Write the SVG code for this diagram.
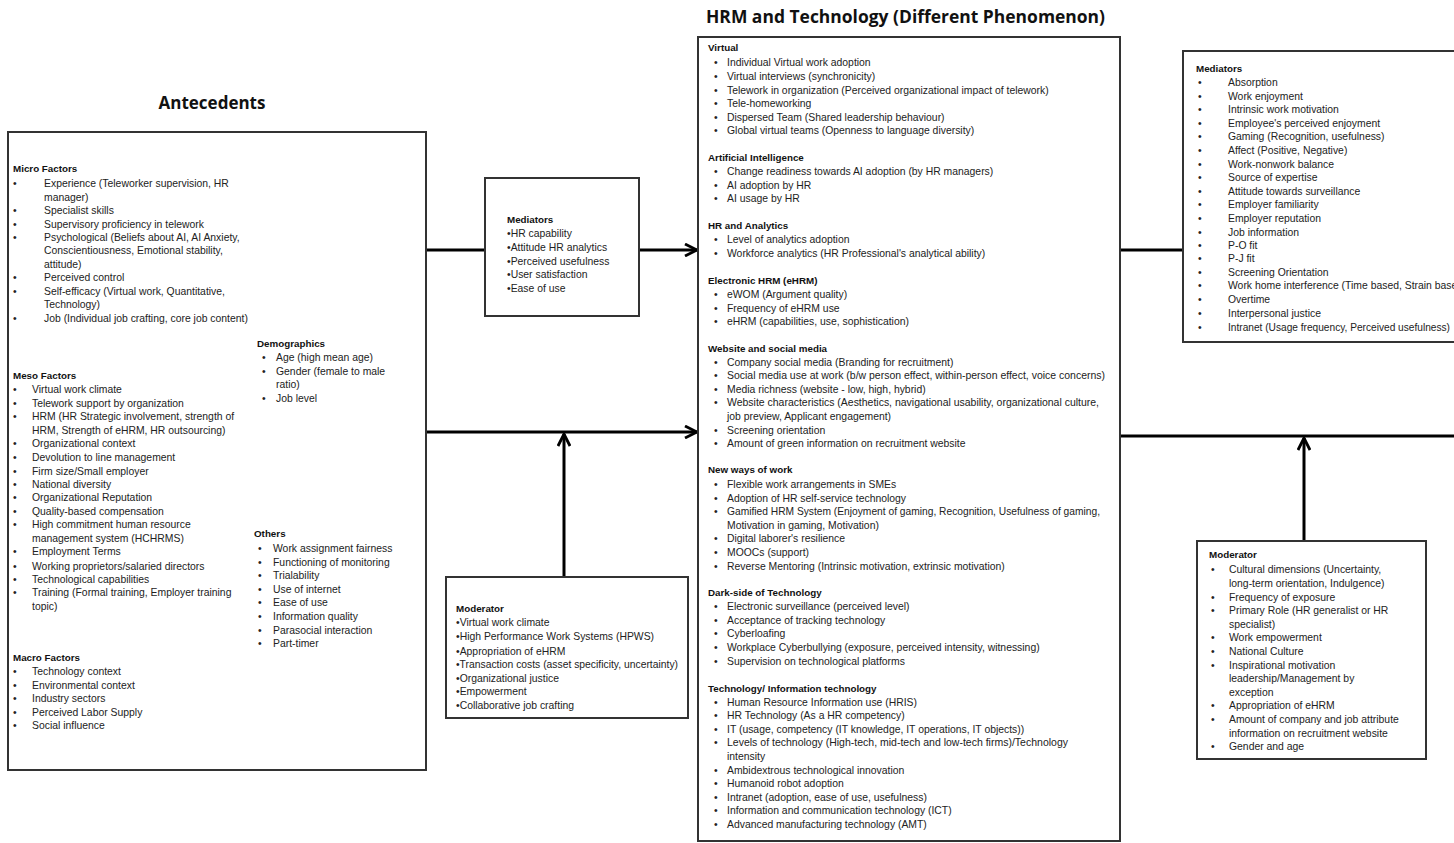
<svg xmlns="http://www.w3.org/2000/svg" width="1454" height="843" viewBox="0 0 1454 843">
<style>
.t{font-family:"Liberation Sans",Arial,sans-serif;font-size:10.4px;fill:#222}
.h{font-family:"Liberation Sans",Arial,sans-serif;font-size:9.8px;font-weight:bold;fill:#111}
.title{font-family:"Open Sans","Liberation Sans",sans-serif;font-size:17px;font-weight:bold;fill:#111}
.box{fill:#fff;stroke:#333;stroke-width:2}
.conn{stroke:#000;stroke-width:3;fill:none}
</style>
<defs>
<marker id="arr" viewBox="0 0 14 14" refX="13" refY="7" markerWidth="14" markerHeight="14" markerUnits="userSpaceOnUse" orient="auto">
<path d="M1,1 L13,7 L1,13" fill="none" stroke="#000" stroke-width="2.8"/>
</marker>
</defs>
<rect width="1454" height="843" fill="#fff"/>

<g id="connectors">
<line class="conn" x1="426" y1="250" x2="485" y2="250"/>
<line class="conn" x1="639" y1="250" x2="697" y2="250" marker-end="url(#arr)"/>
<line class="conn" x1="426" y1="432" x2="697" y2="432" marker-end="url(#arr)"/>
<line class="conn" x1="564" y1="577" x2="564" y2="434" marker-end="url(#arr)"/>
<line class="conn" x1="1120" y1="250" x2="1183" y2="250"/>
<line class="conn" x1="1120" y1="436" x2="1454" y2="436"/>
<line class="conn" x1="1304" y1="541" x2="1304" y2="438" marker-end="url(#arr)"/>
</g>

<g id="antecedents">
<text class="title" x="212" y="109" text-anchor="middle">Antecedents</text>
<rect class="box" x="8" y="132" width="418" height="638"/>
<text class="h" x="13" y="172">Micro Factors</text>
<g class="t">
<text x="13" y="187">•</text><text x="44" y="187">Experience (Teleworker supervision, HR</text>
<text x="44" y="201">manager)</text>
<text x="13" y="214">•</text><text x="44" y="214">Specialist skills</text>
<text x="13" y="228">•</text><text x="44" y="228">Supervisory proficiency in telework</text>
<text x="13" y="241">•</text><text x="44" y="241">Psychological (Beliefs about AI, AI Anxiety,</text>
<text x="44" y="254">Conscientiousness, Emotional stability,</text>
<text x="44" y="268">attitude)</text>
<text x="13" y="281">•</text><text x="44" y="281">Perceived control</text>
<text x="13" y="295">•</text><text x="44" y="295">Self-efficacy (Virtual work, Quantitative,</text>
<text x="44" y="308">Technology)</text>
<text x="13" y="322">•</text><text x="44" y="322">Job (Individual job crafting, core job content)</text>
</g>
<text class="h" x="13" y="379">Meso Factors</text>
<g class="t">
<text x="13" y="393">•</text><text x="32" y="393">Virtual work climate</text>
<text x="13" y="407">•</text><text x="32" y="407">Telework support by organization</text>
<text x="13" y="420">•</text><text x="32" y="420">HRM (HR Strategic involvement, strength of</text>
<text x="32" y="434">HRM, Strength of eHRM, HR outsourcing)</text>
<text x="13" y="447">•</text><text x="32" y="447">Organizational context</text>
<text x="13" y="461">•</text><text x="32" y="461">Devolution to line management</text>
<text x="13" y="475">•</text><text x="32" y="475">Firm size/Small employer</text>
<text x="13" y="488">•</text><text x="32" y="488">National diversity</text>
<text x="13" y="501">•</text><text x="32" y="501">Organizational Reputation</text>
<text x="13" y="515">•</text><text x="32" y="515">Quality-based compensation</text>
<text x="13" y="528">•</text><text x="32" y="528">High commitment human resource</text>
<text x="32" y="542">management system (HCHRMS)</text>
<text x="13" y="555">•</text><text x="32" y="555">Employment Terms</text>
<text x="13" y="570">•</text><text x="32" y="570">Working proprietors/salaried directors</text>
<text x="13" y="583">•</text><text x="32" y="583">Technological capabilities</text>
<text x="13" y="596">•</text><text x="32" y="596">Training (Formal training, Employer training</text>
<text x="32" y="610">topic)</text>
</g>
<text class="h" x="13" y="661">Macro Factors</text>
<g class="t">
<text x="13" y="675">•</text><text x="32" y="675">Technology context</text>
<text x="13" y="689">•</text><text x="32" y="689">Environmental context</text>
<text x="13" y="702">•</text><text x="32" y="702">Industry sectors</text>
<text x="13" y="716">•</text><text x="32" y="716">Perceived Labor Supply</text>
<text x="13" y="729">•</text><text x="32" y="729">Social influence</text>
</g>
<text class="h" x="257" y="347">Demographics</text>
<g class="t">
<text x="262" y="361">•</text><text x="276" y="361">Age (high mean age)</text>
<text x="262" y="375">•</text><text x="276" y="375">Gender (female to male</text>
<text x="276" y="388">ratio)</text>
<text x="262" y="402">•</text><text x="276" y="402">Job level</text>
</g>
<text class="h" x="254" y="537">Others</text>
<g class="t">
<text x="258" y="552">•</text><text x="273" y="552">Work assignment fairness</text>
<text x="258" y="566">•</text><text x="273" y="566">Functioning of monitoring</text>
<text x="258" y="579">•</text><text x="273" y="579">Trialability</text>
<text x="258" y="593">•</text><text x="273" y="593">Use of internet</text>
<text x="258" y="606">•</text><text x="273" y="606">Ease of use</text>
<text x="258" y="620">•</text><text x="273" y="620">Information quality</text>
<text x="258" y="634">•</text><text x="273" y="634">Parasocial interaction</text>
<text x="258" y="647">•</text><text x="273" y="647">Part-timer</text>
</g>
</g>

<g id="mediators-left">
<rect class="box" x="485" y="178" width="154" height="138"/>
<text class="h" x="507" y="223">Mediators</text>
<g class="t">
<text x="507" y="237">•HR capability</text>
<text x="507" y="251">•Attitude HR analytics</text>
<text x="507" y="265">•Perceived usefulness</text>
<text x="507" y="278">•User satisfaction</text>
<text x="507" y="292">•Ease of use</text>
</g>
</g>

<g id="moderator-left">
<rect class="box" x="446" y="577" width="242" height="141"/>
<text class="h" x="456" y="612">Moderator</text>
<g class="t">
<text x="456" y="626">•Virtual work climate</text>
<text x="456" y="640">•High Performance Work Systems (HPWS)</text>
<text x="456" y="655">•Appropriation of eHRM</text>
<text x="456" y="668" textLength="222" lengthAdjust="spacingAndGlyphs">•Transaction costs (asset specificity, uncertainty)</text>
<text x="456" y="682">•Organizational justice</text>
<text x="456" y="695">•Empowerment</text>
<text x="456" y="709">•Collaborative job crafting</text>
</g>
</g>

<g id="hrm-technology">
<text class="title" x="706" y="23" textLength="399" lengthAdjust="spacingAndGlyphs">HRM and Technology (Different Phenomenon)</text>
<rect class="box" x="698" y="37" width="422" height="804"/>
<g class="h">
<text x="708" y="51">Virtual</text>
<text x="708" y="161">Artificial Intelligence</text>
<text x="708" y="229">HR and Analytics</text>
<text x="708" y="284">Electronic HRM (eHRM)</text>
<text x="708" y="352">Website and social media</text>
<text x="708" y="473">New ways of work</text>
<text x="708" y="596">Dark-side of Technology</text>
<text x="708" y="692">Technology/ Information technology</text>
</g>
<g class="t">
<text x="714" y="66">•</text><text x="727" y="66">Individual Virtual work adoption</text>
<text x="714" y="80">•</text><text x="727" y="80">Virtual interviews (synchronicity)</text>
<text x="714" y="94">•</text><text x="727" y="94">Telework in organization (Perceived organizational impact of telework)</text>
<text x="714" y="107">•</text><text x="727" y="107">Tele-homeworking</text>
<text x="714" y="121">•</text><text x="727" y="121">Dispersed Team (Shared leadership behaviour)</text>
<text x="714" y="134">•</text><text x="727" y="134">Global virtual teams (Openness to language diversity)</text>
<text x="714" y="175">•</text><text x="727" y="175">Change readiness towards AI adoption (by HR managers)</text>
<text x="714" y="189">•</text><text x="727" y="189">AI adoption by HR</text>
<text x="714" y="202">•</text><text x="727" y="202">AI usage by HR</text>
<text x="714" y="243">•</text><text x="727" y="243">Level of analytics adoption</text>
<text x="714" y="257">•</text><text x="727" y="257">Workforce analytics (HR Professional's analytical ability)</text>
<text x="714" y="298">•</text><text x="727" y="298">eWOM (Argument quality)</text>
<text x="714" y="312">•</text><text x="727" y="312">Frequency of eHRM use</text>
<text x="714" y="325">•</text><text x="727" y="325">eHRM (capabilities, use, sophistication)</text>
<text x="714" y="366">•</text><text x="727" y="366">Company social media (Branding for recruitment)</text>
<text x="714" y="379">•</text><text x="727" y="379" textLength="378" lengthAdjust="spacingAndGlyphs">Social media use at work (b/w person effect, within-person effect, voice concerns)</text>
<text x="714" y="393">•</text><text x="727" y="393">Media richness (website - low, high, hybrid)</text>
<text x="714" y="406">•</text><text x="727" y="406" textLength="372" lengthAdjust="spacingAndGlyphs">Website characteristics (Aesthetics, navigational usability, organizational culture,</text>
<text x="727" y="420">job preview, Applicant engagement)</text>
<text x="714" y="434">•</text><text x="727" y="434">Screening orientation</text>
<text x="714" y="447">•</text><text x="727" y="447">Amount of green information on recruitment website</text>
<text x="714" y="488">•</text><text x="727" y="488">Flexible work arrangements in SMEs</text>
<text x="714" y="502">•</text><text x="727" y="502">Adoption of HR self-service technology</text>
<text x="714" y="515">•</text><text x="727" y="515" textLength="373" lengthAdjust="spacingAndGlyphs">Gamified HRM System (Enjoyment of gaming, Recognition, Usefulness of gaming,</text>
<text x="727" y="529">Motivation in gaming, Motivation)</text>
<text x="714" y="542">•</text><text x="727" y="542">Digital laborer's resilience</text>
<text x="714" y="556">•</text><text x="727" y="556">MOOCs (support)</text>
<text x="714" y="570">•</text><text x="727" y="570">Reverse Mentoring (Intrinsic motivation, extrinsic motivation)</text>
<text x="714" y="610">•</text><text x="727" y="610">Electronic surveillance (perceived level)</text>
<text x="714" y="624">•</text><text x="727" y="624">Acceptance of tracking technology</text>
<text x="714" y="637">•</text><text x="727" y="637">Cyberloafing</text>
<text x="714" y="651">•</text><text x="727" y="651">Workplace Cyberbullying (exposure, perceived intensity, witnessing)</text>
<text x="714" y="665">•</text><text x="727" y="665">Supervision on technological platforms</text>
<text x="714" y="706">•</text><text x="727" y="706">Human Resource Information use (HRIS)</text>
<text x="714" y="719">•</text><text x="727" y="719">HR Technology (As a HR competency)</text>
<text x="714" y="733">•</text><text x="727" y="733">IT (usage, competency (IT knowledge, IT operations, IT objects))</text>
<text x="714" y="746">•</text><text x="727" y="746" textLength="341" lengthAdjust="spacingAndGlyphs">Levels of technology (High-tech, mid-tech and low-tech firms)/Technology</text>
<text x="727" y="760">intensity</text>
<text x="714" y="774">•</text><text x="727" y="774">Ambidextrous technological innovation</text>
<text x="714" y="787">•</text><text x="727" y="787">Humanoid robot adoption</text>
<text x="714" y="801">•</text><text x="727" y="801">Intranet (adoption, ease of use, usefulness)</text>
<text x="714" y="814">•</text><text x="727" y="814">Information and communication technology (ICT)</text>
<text x="714" y="828">•</text><text x="727" y="828">Advanced manufacturing technology (AMT)</text>
</g>
</g>

<g id="mediators-right">
<rect class="box" x="1183" y="51" width="290" height="291"/>
<text class="h" x="1196" y="72">Mediators</text>
<g class="t">
<text x="1198" y="86">•</text><text x="1228" y="86">Absorption</text>
<text x="1198" y="100">•</text><text x="1228" y="100">Work enjoyment</text>
<text x="1198" y="113">•</text><text x="1228" y="113">Intrinsic work motivation</text>
<text x="1198" y="127">•</text><text x="1228" y="127">Employee's perceived enjoyment</text>
<text x="1198" y="140">•</text><text x="1228" y="140">Gaming (Recognition, usefulness)</text>
<text x="1198" y="154">•</text><text x="1228" y="154">Affect (Positive, Negative)</text>
<text x="1198" y="168">•</text><text x="1228" y="168">Work-nonwork balance</text>
<text x="1198" y="181">•</text><text x="1228" y="181">Source of expertise</text>
<text x="1198" y="195">•</text><text x="1228" y="195">Attitude towards surveillance</text>
<text x="1198" y="208">•</text><text x="1228" y="208">Employer familiarity</text>
<text x="1198" y="222">•</text><text x="1228" y="222">Employer reputation</text>
<text x="1198" y="236">•</text><text x="1228" y="236">Job information</text>
<text x="1198" y="249">•</text><text x="1228" y="249">P-O fit</text>
<text x="1198" y="262">•</text><text x="1228" y="262">P-J fit</text>
<text x="1198" y="276">•</text><text x="1228" y="276">Screening Orientation</text>
<text x="1198" y="289">•</text><text x="1228" y="289">Work home interference (Time based, Strain based)</text>
<text x="1198" y="303">•</text><text x="1228" y="303">Overtime</text>
<text x="1198" y="317">•</text><text x="1228" y="317">Interpersonal justice</text>
<text x="1198" y="331">•</text><text x="1228" y="331" textLength="222" lengthAdjust="spacingAndGlyphs">Intranet (Usage frequency, Perceived usefulness)</text>
</g>
</g>

<g id="moderator-right">
<rect class="box" x="1197" y="541" width="229" height="218"/>
<text class="h" x="1209" y="558">Moderator</text>
<g class="t">
<text x="1211" y="573">•</text><text x="1229" y="573">Cultural dimensions (Uncertainty,</text>
<text x="1229" y="587">long-term orientation, Indulgence)</text>
<text x="1211" y="601">•</text><text x="1229" y="601">Frequency of exposure</text>
<text x="1211" y="614">•</text><text x="1229" y="614">Primary Role (HR generalist or HR</text>
<text x="1229" y="628">specialist)</text>
<text x="1211" y="641">•</text><text x="1229" y="641">Work empowerment</text>
<text x="1211" y="655">•</text><text x="1229" y="655">National Culture</text>
<text x="1211" y="669">•</text><text x="1229" y="669">Inspirational motivation</text>
<text x="1229" y="682">leadership/Management by</text>
<text x="1229" y="696">exception</text>
<text x="1211" y="709">•</text><text x="1229" y="709">Appropriation of eHRM</text>
<text x="1211" y="723">•</text><text x="1229" y="723">Amount of company and job attribute</text>
<text x="1229" y="737">information on recruitment website</text>
<text x="1211" y="750">•</text><text x="1229" y="750">Gender and age</text>
</g>
</g>
</svg>
